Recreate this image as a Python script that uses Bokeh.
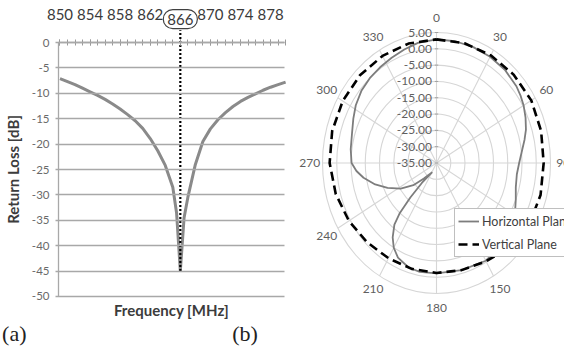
import numpy as np
from bokeh.plotting import figure
from bokeh.models import (LinearAxis, FixedTicker, Range1d, Label, Legend,
                          LegendItem)
from bokeh.layouts import row
from bokeh.embed import file_html
from bokeh.resources import INLINE
from bokeh.core.properties import value

FONT = "Lato"

# ---------------- (a) return loss ----------------
freq_mhz = [850, 851, 852, 853, 854, 855, 856, 857, 858, 859, 860, 861, 862, 863,
            864, 865, 865.5, 866, 866.5, 867, 868, 869, 870, 871, 872, 873, 874,
            875, 876, 877, 878, 879, 880]
return_loss_db = [-7.1, -7.7, -8.3, -9.0, -9.7, -10.4, -11.2, -12.1, -13.1, -14.2,
                  -15.4, -16.9, -18.9, -21.3, -24.2, -28.5, -33.5, -45.0, -34.5,
                  -30.5, -24.0, -19.5, -17.0, -15.2, -13.8, -12.6, -11.6, -10.8,
                  -10.1, -9.4, -8.8, -8.3, -7.8]
resonance_mhz = 866
freq_ticks = [850, 854, 858, 862, 866, 870, 874, 878]
freq_minor_ticks = list(range(850, 881))
rl_ticks = [0, -5, -10, -15, -20, -25, -30, -35, -40, -45, -50]
freq_lo, freq_hi = 849.8, 879.85
rl_lo, rl_hi = -50, 0

# ---------------- (b) radiation pattern ----------------
vert_angle = [0, 15, 30, 45, 60, 75, 90, 105, 120, 135, 150, 165, 180, 195, 210,
              225, 240, 255, 270, 285, 300, 315, 330, 345, 360]
vert_db = [2.9, 3.0, 3.1, 3.3, 3.4, 3.0, 2.6, 2.8, 2.6, 1.4, -0.2, -1.0, -1.3,
           -1.4, -1.3, -0.6, 0.5, 1.6, 2.5, 2.9, 3.0, 3.0, 2.9, 2.9, 2.9]
horiz_angle = [0, 10, 20, 30, 40, 50, 55, 60, 66, 72, 77, 83, 90, 97, 105, 112,
               119, 128, 138, 150, 165, 180, 190, 197, 205, 210, 214, 218, 220,
               221, 220, 208, 223, 230, 238, 246, 253, 260, 265, 270, 278, 287,
               295, 302, 310, 318, 326, 334, 342, 350, 360]
horiz_db = [2.9, 2.9, 2.8, 2.6, 2.3, 1.6, 1.0, 0.3, -0.8, -2.0, -3.3, -4.8, -6.0,
            -6.6, -6.2, -5.0, -3.5, -2.0, -1.0, -0.4, -1.0, -1.2, -1.1, -1.5, -3.0,
            -5.0, -7.5, -11.0, -15.0, -21.0, -27.0, -31.8, -28.5, -24.4, -20.2,
            -16.2, -12.5, -9.0, -6.8, -5.2, -4.6, -4.0, -2.8, -1.6, -0.6, 0.0,
            0.4, 0.9, 1.6, 2.4, 2.9]
ring_db = [-35, -30, -25, -20, -15, -10, -5, 0, 5]
ring_labels = ["-35.00", "-30.00", "-25.00", "-20.00", "-15.00", "-10.00",
               "-5.00", "0.00", "5.00"]
angle_ticks = [0, 30, 60, 90, 120, 150, 180, 210, 240, 270, 300, 330]

GRID = "#a8a8a8"
TOP_LABEL_COLOR = "#3a3a3a"

# ======== left panel ========
p1 = figure(width=290, height=347, x_range=Range1d(842.09, 880.65),
            y_range=Range1d(-60.04, 8.27), output_backend="svg",
            toolbar_location=None, x_axis_location=None, y_axis_location=None,
            min_border=0)
p1.outline_line_color = None
p1.grid.visible = False

# left axis: its inward ticks span the plot and act as the horizontal gridlines
ya = LinearAxis(fixed_location=freq_lo, bounds=(rl_lo, rl_hi),
                ticker=FixedTicker(ticks=rl_ticks))
ya.major_label_overrides = {t: str(t) for t in rl_ticks}
ya.major_label_text_font = FONT
ya.major_label_text_font_size = "11.5px"
ya.major_label_text_color = "#6a6a6a"
ya.major_tick_in = 226
ya.major_tick_out = 3
ya.major_tick_line_color = GRID
ya.major_tick_line_width = 1.3
ya.minor_tick_line_color = None
ya.axis_line_color = GRID
ya.axis_line_width = 1.3
ya.major_label_standoff = 6
ya.axis_label = "Return Loss [dB]"
ya.axis_label_text_font = FONT
ya.axis_label_text_font_size = "15px"
ya.axis_label_text_font_style = "bold"
ya.axis_label_text_color = "#3c3c3c"
ya.axis_label_standoff = 7
p1.add_layout(ya, "left")

top = LinearAxis(fixed_location=rl_hi, bounds=(freq_lo, freq_hi),
                 ticker=FixedTicker(ticks=freq_ticks, minor_ticks=freq_minor_ticks))
# the resonance label is drawn below as a circled label
top.major_label_overrides = {resonance_mhz: ""}
top.major_label_text_font = FONT
top.major_label_text_font_size = "15px"
top.major_label_text_color = TOP_LABEL_COLOR
top.major_tick_in = 3
top.major_tick_out = 3
top.minor_tick_in = 3
top.minor_tick_out = 3
top.major_tick_line_color = "#9a9a9a"
top.minor_tick_line_color = "#9a9a9a"
top.axis_line_color = GRID
top.axis_line_width = 1.3
top.major_label_standoff = 20
p1.add_layout(top, "above")

bot = LinearAxis(fixed_location=rl_lo, bounds=(freq_lo, freq_hi),
                 ticker=FixedTicker(ticks=[]), axis_label="Frequency [MHz]")
bot.axis_line_color = None
bot.major_tick_line_color = None
bot.minor_tick_line_color = None
bot.axis_label_text_font = FONT
bot.axis_label_text_font_size = "15px"
bot.axis_label_text_font_style = "bold"
bot.axis_label_text_color = "#3c3c3c"
bot.axis_label_standoff = 4
p1.add_layout(bot, "below")

p1.line(freq_mhz, return_loss_db, line_color="#8a8a8a", line_width=3)

marker_top = 2.4
p1.segment(x0=resonance_mhz, y0=min(return_loss_db), x1=resonance_mhz,
           y1=marker_top, line_color="black", line_width=2.2, line_dash="2 2")
p1.add_layout(Label(x=resonance_mhz, y=4.6, text=str(resonance_mhz),
                    text_color=TOP_LABEL_COLOR, text_font=FONT,
                    text_font_size="15px", text_align="center",
                    text_baseline="middle",
                    border_line_color="#404040", border_line_width=1.2,
                    border_radius=10, padding=4))
p1.add_layout(Label(x=842.3, y=-57.2, text="(a)", text_font="Liberation Serif",
                    text_font_size="22px", text_align="left",
                    text_baseline="middle", text_color="#222222"))
p1.add_layout(Label(x=874.6, y=-57.3, text="(b)", text_font="Liberation Serif",
                    text_font_size="22px", text_align="center",
                    text_baseline="middle", text_color="#222222"))

# ======== right panel (polar) ========
p2 = figure(width=274, height=347, x_range=Range1d(-51.23, 44.91),
            y_range=Range1d(-56.55, 49.81), output_backend="svg",
            toolbar_location=None, min_border=0, x_axis_location=None,
            y_axis_location=None)
p2.grid.visible = False
p2.outline_line_color = None

r_min = ring_db[0]
r_max = ring_db[-1] - r_min
ring_r = [d - r_min for d in ring_db[1:]]
p2.ellipse(x=0, y=0, width=[2 * r for r in ring_r], height=[2 * r for r in ring_r],
           fill_color=None, line_color="#d6d6d6", line_width=1.1)
th = np.radians(angle_ticks)
p2.segment(x0=0, y0=0, x1=r_max * np.sin(th), y1=r_max * np.cos(th),
           line_color="#d6d6d6", line_width=1.1)
all_r = [d - r_min for d in ring_db]
p2.segment(x0=-0.6, y0=all_r, x1=0.6, y1=all_r, line_color="#a0a0a0", line_width=1)
p2.text(x=-1.6, y=all_r, text=ring_labels, text_align="right",
        text_baseline="middle", text_font=value(FONT), text_font_size="12px",
        text_color="#5f5f5f")
p2.text(x=(r_max + 4.5) * np.sin(th), y=(r_max + 4.5) * np.cos(th),
        text=[str(a) for a in angle_ticks], text_align="center",
        text_baseline="middle", text_font=value(FONT), text_font_size="12px",
        text_color="#5f5f5f")

hr = np.array(horiz_db) - r_min
ha = np.radians(horiz_angle)
vr = np.array(vert_db) - r_min
va = np.radians(vert_angle)
h_line = p2.line(hr * np.sin(ha), hr * np.cos(ha), line_color="#7d7d7d", line_width=1.8)
v_line = p2.line(vr * np.sin(va), vr * np.cos(va), line_color="black",
                 line_width=2.6, line_dash="9 5")

legend = Legend(items=[LegendItem(label="Horizontal Plane", renderers=[h_line]),
                       LegendItem(label="Vertical Plane", renderers=[v_line])],
                location=(164, 90))
legend.border_line_color = "#808080"
legend.border_line_width = 1
legend.background_fill_color = "white"
legend.background_fill_alpha = 1
legend.label_text_font = FONT
legend.label_text_font_size = "12.5px"
legend.label_text_color = "#404040"
legend.glyph_width = 21
legend.glyph_height = 18
legend.label_height = 18
legend.spacing = 5
legend.padding = 3
legend.margin = 0
legend.label_standoff = 3
p2.add_layout(legend)

layout = row(p1, p2)
open("out.html", "w").write(file_html(layout, INLINE))
